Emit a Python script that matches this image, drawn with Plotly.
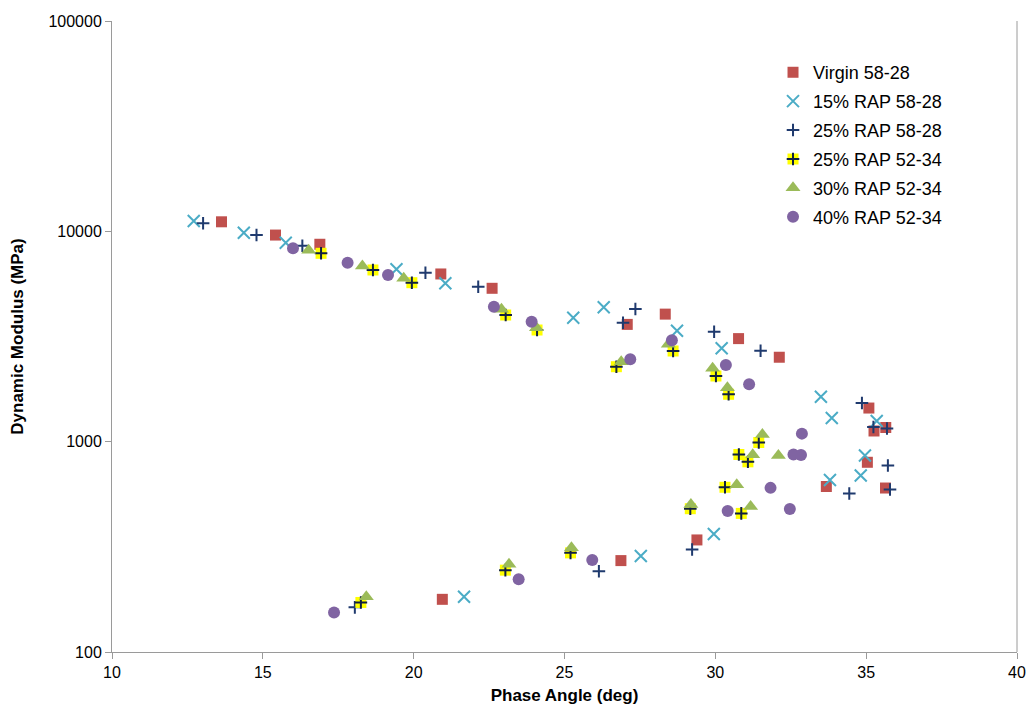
import plotly.graph_objects as go

# ---------------- data ----------------
virgin_x = [13.63, 15.42, 16.89, 20.90, 22.60, 27.08, 28.34, 30.77, 32.12, 35.09, 35.26, 35.65, 35.04, 33.68, 35.64, 29.39, 26.87, 20.95]
virgin_y = [11100, 9600, 8680, 6270, 5360, 3610, 4040, 3090, 2520, 1445, 1124, 1168, 798, 612, 602, 341, 272, 178]

rap15_x = [12.71, 14.37, 15.76, 19.43, 21.05, 25.29, 26.30, 28.73, 30.21, 33.50, 33.86, 35.35, 34.96, 34.82, 33.80, 29.95, 27.53, 21.67]
rap15_y = [11200, 9850, 8830, 6600, 5660, 3886, 4353, 3369, 2779, 1635, 1296, 1254, 859, 690, 657, 364, 286, 183]

rap25a_x = [13.02, 14.79, 16.31, 20.39, 22.14, 26.94, 27.35, 29.96, 31.50, 34.86, 35.24, 35.69, 35.72, 34.44, 35.79, 29.23, 26.14, 18.05]
rap25a_y = [10920, 9600, 8545, 6358, 5454, 3678, 4273, 3333, 2707, 1527, 1174, 1155, 770, 567, 592, 307, 242, 163]

rap25b_x = [16.93, 18.65, 19.94, 23.05, 24.09, 26.72, 28.60, 30.02, 30.44, 31.44, 30.78, 31.08, 30.32, 29.17, 30.86, 25.20, 23.04, 18.25]
rap25b_y = [7862, 6550, 5698, 4001, 3395, 2272, 2698, 2052, 1680, 991, 869, 802, 607, 480, 456, 296, 245, 172]

rap30_x = [16.52, 18.30, 19.67, 22.91, 24.07, 26.88, 28.44, 29.91, 30.40, 31.56, 31.24, 32.09, 30.71, 29.19, 31.17, 25.23, 23.16, 18.43]
rap30_y = [8123, 6843, 5979, 4259, 3482, 2400, 2903, 2233, 1805, 1083, 866, 859, 624, 502, 492, 313, 261, 183]

rap40_x = [16.00, 17.81, 19.15, 22.66, 23.91, 27.18, 28.56, 30.35, 31.12, 32.87, 32.59, 32.84, 31.83, 30.41, 32.47, 25.92, 23.48, 17.36]
rap40_y = [8303, 7094, 6200, 4382, 3718, 2464, 3033, 2314, 1876, 1092, 869, 864, 603, 468, 478, 274, 222, 154]

names = ["Virgin 58-28", "15% RAP 58-28", "25% RAP 58-28", "25% RAP 52-34", "30% RAP 52-34", "40% RAP 52-34"]
y_ticks = [100, 1000, 10000, 100000]
x_ticks = [10, 15, 20, 25, 30, 35, 40]

# ---------------- styles ----------------
RED = "#C0504D"
LBLUE = "#4BACC6"
NAVY = "#1F3A6E"
YELLOW = "#FFFF00"
GREEN = "#9BBB59"
PURPLE = "#8064A2"
AXIS = "#9A9A9A"
FONT = "Liberation Sans, Arial, sans-serif"

fig = go.Figure()

fig.add_trace(go.Scatter(x=virgin_x, y=virgin_y, mode="markers", name=names[0],
                         legendgroup="g1",
                         marker=dict(symbol="square", size=11, color=RED)))
fig.add_trace(go.Scatter(x=rap15_x, y=rap15_y, mode="markers", name=names[1],
                         legendgroup="g2",
                         marker=dict(symbol="x-thin", size=12, line=dict(color=LBLUE, width=2))))
fig.add_trace(go.Scatter(x=rap25a_x, y=rap25a_y, mode="markers", name=names[2],
                         legendgroup="g3",
                         marker=dict(symbol="cross-thin", size=9, line=dict(color=NAVY, width=2))))
fig.add_trace(go.Scatter(x=rap25b_x, y=rap25b_y, mode="markers", name=names[3] + " bg",
                         legendgroup="g4", showlegend=False,
                         marker=dict(symbol="square", size=11, color=YELLOW)))
fig.add_trace(go.Scatter(x=rap25b_x, y=rap25b_y, mode="markers", name=names[3],
                         legendgroup="g4",
                         marker=dict(symbol="cross-thin", size=9, line=dict(color="#102040", width=2))))
fig.add_trace(go.Scatter(x=rap30_x, y=rap30_y, mode="markers", name=names[4],
                         legendgroup="g5",
                         marker=dict(symbol="triangle-up", size=13, color=GREEN)))
fig.add_trace(go.Scatter(x=rap40_x, y=rap40_y, mode="markers", name=names[5],
                         legendgroup="g6",
                         marker=dict(symbol="circle", size=12, color=PURPLE)))

fig.update_layout(
    width=1029, height=712,
    margin=dict(l=112, r=12, t=21, b=60, autoexpand=False),
    paper_bgcolor="white", plot_bgcolor="white",
    font=dict(family=FONT, size=16, color="#000000"),
    showlegend=True,
    legend=dict(x=0.7304, xanchor="left", y=0.9476, yanchor="top",
                bgcolor="rgba(0,0,0,0)", font=dict(size=18, color="#000000"),
                tracegroupgap=2.5, traceorder="grouped"),
    xaxis=dict(range=[10, 40], tickvals=x_ticks, ticks="outside", ticklen=6,
               tickcolor=AXIS, showline=True, linecolor=AXIS, linewidth=1,
               showgrid=False, zeroline=False, automargin=False,
               tickfont=dict(size=16),
               title=dict(text="<b>Phase Angle (deg)</b>", font=dict(size=17), standoff=8)),
    yaxis=dict(type="log", range=[2, 5], tickvals=y_ticks,
               ticktext=[str(v) for v in y_ticks], ticks="outside", ticklen=6,
               tickcolor=AXIS, showline=True, linecolor=AXIS, linewidth=1,
               showgrid=False, zeroline=False, automargin=False,
               tickfont=dict(size=16),
               title=dict(text="<b>Dynamic Modulus (MPa)</b>", font=dict(size=17), standoff=20)),
    shapes=[dict(type="line", xref="paper", yref="paper", x0=1, x1=1, y0=0, y1=1,
                 line=dict(color=AXIS, width=1)),
            # yellow background of the "25% RAP 52-34" legend symbol
            dict(type="rect", xref="paper", yref="paper", layer="above",
                 x0=0.7525 - 0.0061, x1=0.7525 + 0.0061,
                 y0=0.7813 - 0.0087, y1=0.7813 + 0.0087,
                 fillcolor=YELLOW, line=dict(width=0))],
)

fig.write_html("out.html")
